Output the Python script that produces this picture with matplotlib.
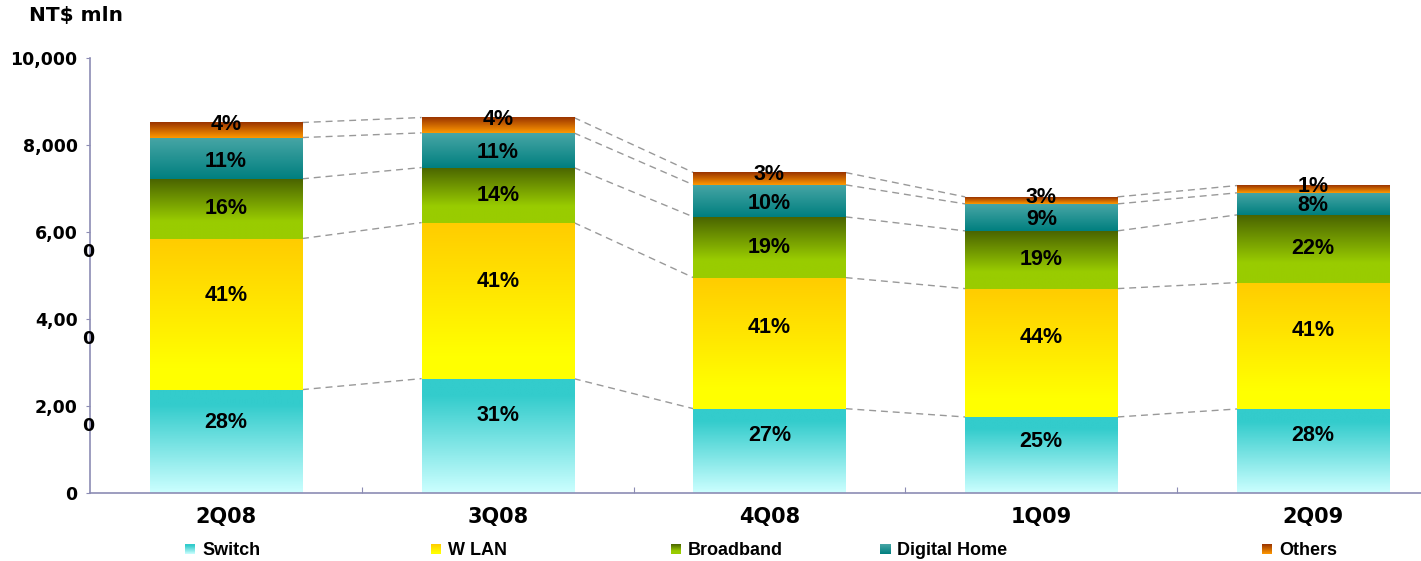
import numpy as np
import matplotlib
matplotlib.use('Agg')
import matplotlib.pyplot as plt
from matplotlib.colors import to_rgb
from matplotlib.transforms import blended_transform_factory

quarters = ['2Q08', '3Q08', '4Q08', '1Q09', '2Q09']
series = ['Switch', 'W LAN', 'Broadband', 'Digital Home', 'Others']

# NT$ mln
switch = [2371, 2624, 1933, 1742, 1926]
wlan = [3475, 3590, 3015, 2953, 2907]
broadband = [1374, 1266, 1397, 1328, 1558]
digital_home = [950, 798, 737, 621, 507]
others = [346, 353, 283, 161, 168]

# shares as printed on the chart
switch_pct = ['28%', '31%', '27%', '25%', '28%']
wlan_pct = ['41%', '41%', '41%', '44%', '41%']
broadband_pct = ['16%', '14%', '19%', '19%', '22%']
digital_home_pct = ['11%', '11%', '10%', '9%', '8%']
others_pct = ['4%', '4%', '3%', '3%', '1%']

y_ticks = [0, 2000, 4000, 6000, 8000, 10000]
y_tick_labels = ['0', '2,00', '4,00', '6,00', '8,000', '10,000']
wrapped_ticks = [2000, 4000, 6000]  # the "0" that spilled onto a second line

# (top colour, bottom colour, gradient start, gradient end)
styles = [
  ('#33CCCC', '#CCFFFF', 0.15, 1.0),
  ('#FFCC00', '#FFFF00', 0.0, 0.85),
  ('#4A6400', '#99CC00', 0.0, 0.7),
  ('#48A6A6', '#007F7F', 0.0, 1.0),
  ('#993300', '#FF9900', 0.0, 1.0),
]
label_frac = [0.68, 0.62, 0.5, 0.42, 0.85]
legend_x = [185, 431, 671, 880, 1262]  # marker left edge, px

def gradient(top, bottom, start, end, n=200):
  t = np.linspace(0, 1, n)
  t = np.clip((t - start) / (end - start), 0, 1)
  c0 = np.array(to_rgb(top))
  c1 = np.array(to_rgb(bottom))
  img = c0[None, :] * (1 - t[:, None]) + c1[None, :] * t[:, None]
  return img[:, None, :]

W, H = 1421, 561
fig = plt.figure(figsize=(W / 100, H / 100), dpi=100)
left, bottom_px, top_px = 90, 492.7, 58
ax = fig.add_axes([left / W, (H - bottom_px) / H, 1359 / W, (bottom_px - top_px) / H])

values = [switch, wlan, broadband, digital_home, others]
labels = [switch_pct, wlan_pct, broadband_pct, digital_home_pct, others_pct]
x = np.arange(len(quarters))
width = 0.56
base = np.zeros(len(quarters))
tops = []
for i, vals in enumerate(values):
  bars = ax.bar(x, vals, width, bottom=base, color='none', edgecolor='none')
  top, bot, s, e = styles[i]
  img = gradient(top, bot, s, e)
  for j, b in enumerate(bars):
    x0, y0 = b.get_x(), b.get_y()
    w, h = b.get_width(), b.get_height()
    ax.imshow(img, extent=[x0, x0 + w, y0, y0 + h], aspect='auto',
              origin='upper', zorder=2, interpolation='bilinear')
    ax.text(x0 + w / 2, y0 + h * label_frac[i], labels[i][j], ha='center', va='center',
            fontsize=15.5, fontweight='bold', family=['Liberation Sans', 'DejaVu Sans'],
            zorder=4)
  base = base + np.array(vals)
  tops.append(base.copy())

# dashed connectors between neighbouring bars
for t in tops:
  for j in range(len(quarters) - 1):
    ax.plot([x[j] + width / 2, x[j + 1] - width / 2], [t[j], t[j + 1]],
            color='#999999', lw=1, linestyle=(0, (5, 3.5)), zorder=1)

ax.set_xlim(-0.5, len(quarters) - 0.5)
ax.set_ylim(0, 10000)

for side in ['top', 'right']:
  ax.spines[side].set_visible(False)
for side in ['left', 'bottom']:
  ax.spines[side].set_color('#8C8CB4')
  ax.spines[side].set_linewidth(1.2)

# y axis
ax.set_yticks(y_ticks)
ax.set_yticklabels(y_tick_labels)
ax.tick_params(axis='y', direction='out', length=3, color='#8C8CB4', pad=6,
               labelsize=12.5)
for lbl in ax.get_yticklabels():
  lbl.set_fontweight('bold')
  lbl.set_family('DejaVu Sans')
trans = blended_transform_factory(ax.transAxes, ax.transData)
for v in wrapped_ticks:
  ax.annotate('0', xy=(0, v), xycoords=trans, xytext=(3, -8), textcoords='offset points',
              ha='right', va='top', fontsize=12.5, fontweight='bold', family='DejaVu Sans')

# x axis: boundary ticks + category labels
ax.set_xticks(x[:-1] + 0.5)
ax.set_xticklabels([])
ax.tick_params(axis='x', which='major', direction='in', length=4, color='#8C8CB4')
ax.set_xticks(x, minor=True)
ax.set_xticklabels(quarters, minor=True, fontsize=15, fontweight='bold', family='DejaVu Sans')
ax.tick_params(axis='x', which='minor', length=0, pad=10)

fig.text(29 / W, 1 - 15 / H, 'NT$ mln', ha='left', va='center', fontsize=14.5,
         fontweight='bold', family='DejaVu Sans')

# legend, drawn by hand because the entries are unevenly spaced
ly = 549
for i, name in enumerate(series):
  top, bot, s, e = styles[i]
  lax = fig.add_axes([legend_x[i] / W, 1 - (ly + 5) / H, 10 / W, 10 / H])
  lax.imshow(gradient(top, bot, s, e), aspect='auto', extent=[0, 1, 0, 1])
  lax.axis('off')
  fig.text((legend_x[i] + 17) / W, 1 - 555 / H, name, ha='left', va='baseline',
           fontsize=13, fontweight='bold',
           family=['Liberation Sans Narrow', 'Liberation Sans', 'DejaVu Sans'])

fig.savefig('out.png', dpi=100)
